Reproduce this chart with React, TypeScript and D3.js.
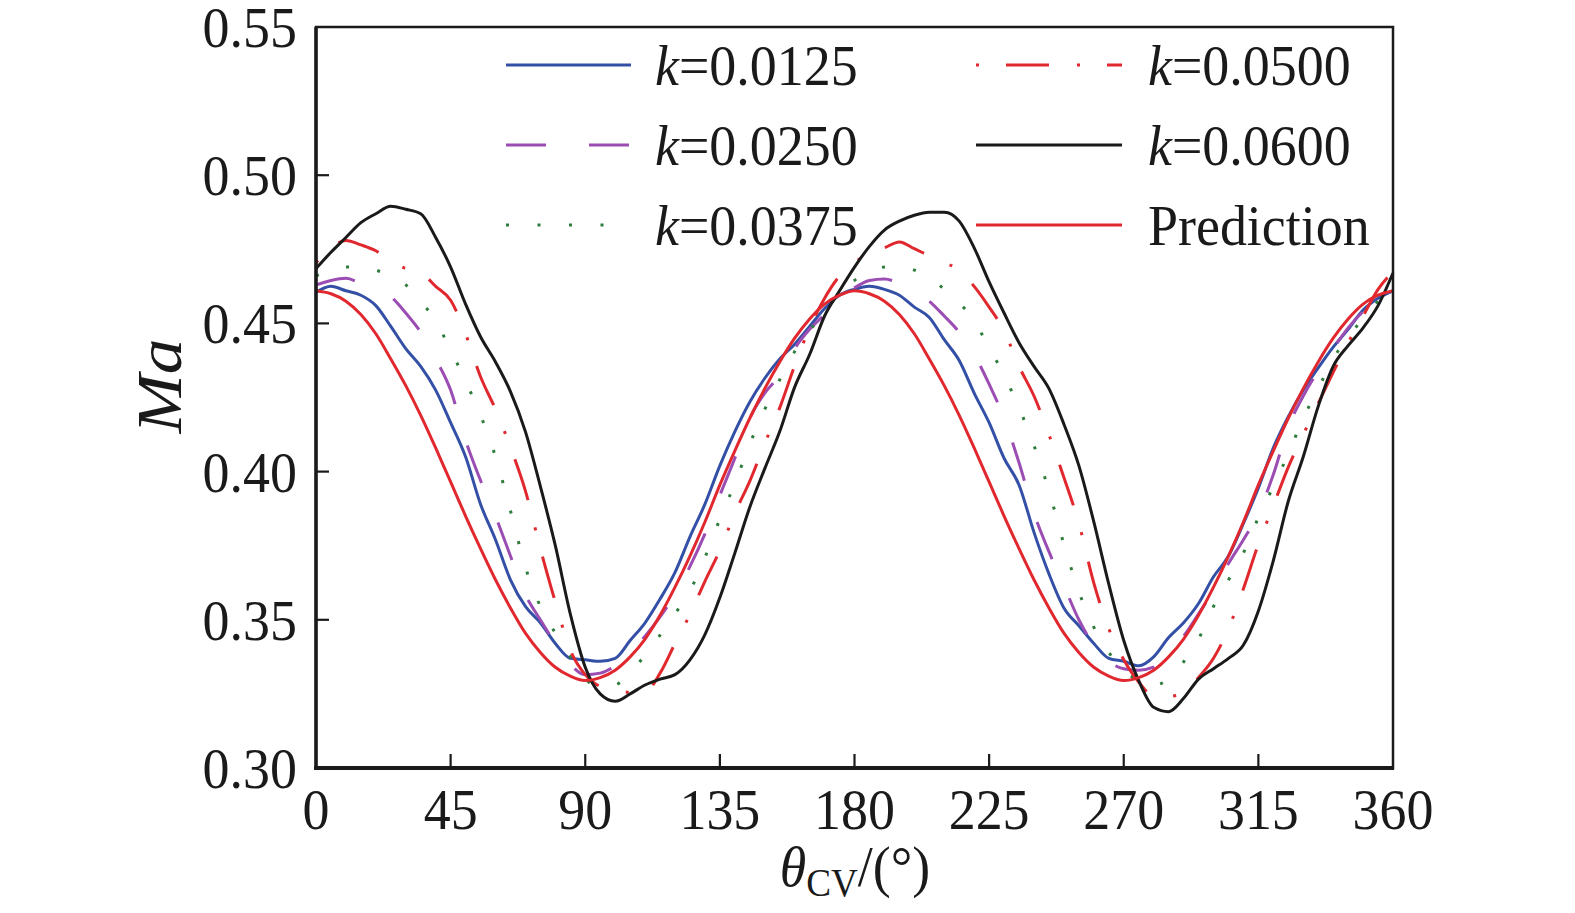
import React from 'react'
import * as d3 from 'd3'

// crank angle grid, 5 degree steps
const angles = d3.range(0, 361, 5)

const xTicks = [0, 45, 90, 135, 180, 225, 270, 315, 360]
const yTicks = [0.3, 0.35, 0.4, 0.45, 0.5, 0.55]

// Ma values
const k0125 = [
  0.4605, 0.4625, 0.461, 0.4595, 0.456, 0.449, 0.4415, 0.4355, 0.4275, 0.4165, 0.405, 0.389, 0.377, 0.3635, 0.3545, 0.349, 0.342, 0.337, 0.3365,
  0.336, 0.337, 0.343, 0.349, 0.357, 0.366, 0.378, 0.389, 0.402, 0.4135, 0.4235, 0.4315, 0.438, 0.443, 0.449, 0.455, 0.4595, 0.4615,
  0.4625, 0.4615, 0.4595, 0.4555, 0.452, 0.4445, 0.4375, 0.4265, 0.4165, 0.4045, 0.3955, 0.3795, 0.3655, 0.354, 0.348, 0.342, 0.337, 0.336,
  0.3345, 0.3375, 0.344, 0.349, 0.3555, 0.3645, 0.3715, 0.3825, 0.3945, 0.408, 0.4185, 0.4275, 0.435, 0.442, 0.448, 0.4545, 0.4585, 0.461,
]
const k0250 = [
  0.463, 0.4645, 0.4652, 0.4635, 0.4615, 0.459, 0.4535, 0.447, 0.438, 0.4275, 0.4105, 0.397, 0.385, 0.3715, 0.3585, 0.35, 0.342, 0.335, 0.3315,
  0.332, 0.3345, 0.339, 0.3445, 0.351, 0.3585, 0.368, 0.379, 0.392, 0.4045, 0.418, 0.4265, 0.4325, 0.4415, 0.448, 0.453, 0.458, 0.462,
  0.4645, 0.465, 0.4635, 0.461, 0.4575, 0.4525, 0.447, 0.4395, 0.4295, 0.418, 0.403, 0.386, 0.373, 0.3615, 0.35, 0.3415, 0.336, 0.3335,
  0.333, 0.334, 0.339, 0.3445, 0.352, 0.36, 0.369, 0.377, 0.386, 0.399, 0.415, 0.4255, 0.434, 0.4415, 0.4485, 0.454, 0.458, 0.4605,
]
const k0375 = [
  0.466, 0.468, 0.469, 0.4688, 0.468, 0.4658, 0.463, 0.4575, 0.4508, 0.441, 0.4305, 0.419, 0.405, 0.3868, 0.3678, 0.3545, 0.3455, 0.3375, 0.33,
  0.3275, 0.328, 0.3325, 0.338, 0.3448, 0.352, 0.3598, 0.371, 0.384, 0.396, 0.4093, 0.421, 0.431, 0.4405, 0.4475, 0.454, 0.46, 0.4645,
  0.4675, 0.469, 0.4692, 0.468, 0.4655, 0.4615, 0.457, 0.4508, 0.4418, 0.4325, 0.4215, 0.4088, 0.3935, 0.3755, 0.3595, 0.3475, 0.339, 0.333,
  0.3295, 0.328, 0.33, 0.3358, 0.3435, 0.3545, 0.3634, 0.3725, 0.3845, 0.395, 0.406, 0.418, 0.428, 0.438, 0.4455, 0.4515, 0.4575, 0.4635,
]
const k0500 = [
  0.4705, 0.4755, 0.478, 0.4765, 0.4745, 0.471, 0.4685, 0.4672, 0.4625, 0.4578, 0.4465, 0.432, 0.421, 0.4082, 0.3935, 0.374, 0.356, 0.3398, 0.3315,
  0.3275, 0.3263, 0.3255, 0.3256, 0.332, 0.342, 0.3518, 0.363, 0.3735, 0.386, 0.3968, 0.4095, 0.4215, 0.4357, 0.4485, 0.4585, 0.466, 0.4705,
  0.4738, 0.4755, 0.4775, 0.4752, 0.4728, 0.4705, 0.468, 0.4625, 0.4555, 0.4475, 0.4355, 0.4255, 0.4125, 0.398, 0.3825, 0.3624, 0.347, 0.3365,
  0.329, 0.3243, 0.3242, 0.3252, 0.3305, 0.337, 0.347, 0.3605, 0.3755, 0.3885, 0.4015, 0.4125, 0.423, 0.4335, 0.4435, 0.4525, 0.4615, 0.4675,
]
const k0600 = [
  0.4685, 0.474, 0.479, 0.484, 0.487, 0.4895, 0.4885, 0.487, 0.479, 0.469, 0.4565, 0.4455, 0.437, 0.427, 0.4135, 0.395, 0.375, 0.352, 0.334,
  0.325, 0.3225, 0.325, 0.328, 0.33, 0.3315, 0.3365, 0.345, 0.3575, 0.3725, 0.388, 0.401, 0.4135, 0.4285, 0.4395, 0.4525, 0.461, 0.469,
  0.476, 0.4815, 0.4845, 0.4865, 0.4875, 0.4875, 0.4845, 0.4755, 0.464, 0.4535, 0.4435, 0.4355, 0.428, 0.416, 0.402, 0.383, 0.362, 0.343,
  0.3295, 0.3205, 0.319, 0.3235, 0.33, 0.3335, 0.337, 0.3415, 0.353, 0.37, 0.39, 0.405, 0.422, 0.4355, 0.4425, 0.4485, 0.456, 0.467,
]
const prediction = [
  0.461, 0.46, 0.4575, 0.453, 0.4465, 0.438, 0.429, 0.419, 0.408, 0.3965, 0.385, 0.374, 0.3635, 0.354, 0.3455, 0.339, 0.334, 0.331, 0.3295,
  0.3305, 0.333, 0.3375, 0.3435, 0.3515, 0.361, 0.3715, 0.383, 0.3955, 0.407, 0.418, 0.428, 0.437, 0.445, 0.4515, 0.4565, 0.4595, 0.461,
  0.46, 0.4575, 0.453, 0.4465, 0.438, 0.429, 0.419, 0.408, 0.3965, 0.385, 0.374, 0.3635, 0.354, 0.3455, 0.339, 0.334, 0.331, 0.3295,
  0.3305, 0.333, 0.3375, 0.3435, 0.3515, 0.361, 0.3715, 0.383, 0.3955, 0.407, 0.418, 0.428, 0.437, 0.445, 0.4515, 0.4565, 0.4595, 0.461,
]

const series = [
  { label: '0.0125', values: k0125, color: '#3450a6', dash: undefined as string | undefined },
  { label: '0.0250', values: k0250, color: '#9b4db3', dash: '40,43' },
  { label: '0.0375', values: k0375, color: '#2f7d3c', dash: '3,28.5' },
  { label: '0.0500', values: k0500, color: '#e0282e', dash: '3,27,43,28' },
  { label: '0.0600', values: k0600, color: '#1a1a1a', dash: undefined },
  { label: 'Prediction', values: prediction, color: '#e0282e', dash: undefined },
]

const FONT = '"Liberation Serif", "Times New Roman", serif'
const FS = 58
const SX = 0.93

function T({ x, y, anchor = 'start', children }: { x: number; y: number; anchor?: string; children: React.ReactNode }) {
  return (
    <text transform={`translate(${x},${y}) scale(${SX},1)`} textAnchor={anchor} fontSize={FS} fill="#1a1a1a">
      {children}
    </text>
  )
}

export default function App() {
  const x = d3.scaleLinear().domain([0, 360]).range([316, 1393])
  const y = d3.scaleLinear().domain([0.3, 0.55]).range([768, 27])

  const line = d3
    .line<number>()
    .x((_, i) => x(angles[i]))
    .y(d => y(d))
    .curve(d3.curveMonotoneX)

  // legend slots: [x1, x2, textX, rowY]
  const legendPos = [
    [506, 631, 655, 65],
    [506, 631, 655, 145],
    [506, 631, 655, 225],
    [976, 1122, 1148, 65],
    [976, 1122, 1148, 145],
    [976, 1122, 1148, 225],
  ]

  return (
    <svg width={1575} height={913} style={{ position: 'absolute', left: 0, top: 0, background: '#fff' }} fontFamily={FONT}>
      {/* curves */}
      {series.map(s => (
        <path
          key={s.label}
          d={line(s.values) || ''}
          fill="none"
          stroke={s.color}
          strokeWidth={3}
          strokeDasharray={s.dash}
          strokeLinejoin="round"
        />
      ))}

      {/* frame */}
      <rect x={316} y={27} width={1077} height={741} fill="none" stroke="#1a1a1a" strokeWidth={2.5} />
      <line x1={316} x2={316} y1={27} y2={769} stroke="#1a1a1a" strokeWidth={3.5} />
      <line x1={314} x2={1394} y1={768} y2={768} stroke="#1a1a1a" strokeWidth={4} />

      {/* ticks */}
      {xTicks.slice(1, -1).map(t => (
        <line key={t} x1={x(t)} x2={x(t)} y1={768} y2={754} stroke="#1a1a1a" strokeWidth={2.2} />
      ))}
      {yTicks.slice(1, -1).map(t => (
        <line key={t} x1={316} x2={329} y1={y(t)} y2={y(t)} stroke="#1a1a1a" strokeWidth={2.2} />
      ))}

      {/* tick labels */}
      {xTicks.map(t => (
        <T key={t} x={x(t)} y={829} anchor="middle">{t}</T>
      ))}
      {yTicks.map(t => (
        <T key={t} x={297} y={y(t) + 20} anchor="end">{t.toFixed(2)}</T>
      ))}

      {/* axis titles */}
      <text transform="translate(181,386) rotate(-90) scale(1.08,0.95)" textAnchor="middle" fontSize={66} fontStyle="italic" fill="#1a1a1a">
        Ma
      </text>
      <text transform="translate(855,886) scale(0.93,1)" textAnchor="middle" fontSize={FS} fill="#1a1a1a">
        <tspan fontStyle="italic">θ</tspan>
        <tspan fontSize={40} dy={10}>CV</tspan>
        <tspan dy={-10}>/(°)</tspan>
      </text>

      {/* legend */}
      {series.map((s, i) => {
        const [x1, x2, tx, ry] = legendPos[i]
        return (
          <g key={s.label}>
            <line x1={x1} x2={x2} y1={ry} y2={ry} stroke={s.color} strokeWidth={3} strokeDasharray={s.dash} />
            {s.label === 'Prediction' ? (
              <T x={tx} y={ry + 20}>Prediction</T>
            ) : (
              <T x={tx} y={ry + 20}>
                <tspan fontStyle="italic">k</tspan>={s.label}
              </T>
            )}
          </g>
        )
      })}
    </svg>
  )
}
